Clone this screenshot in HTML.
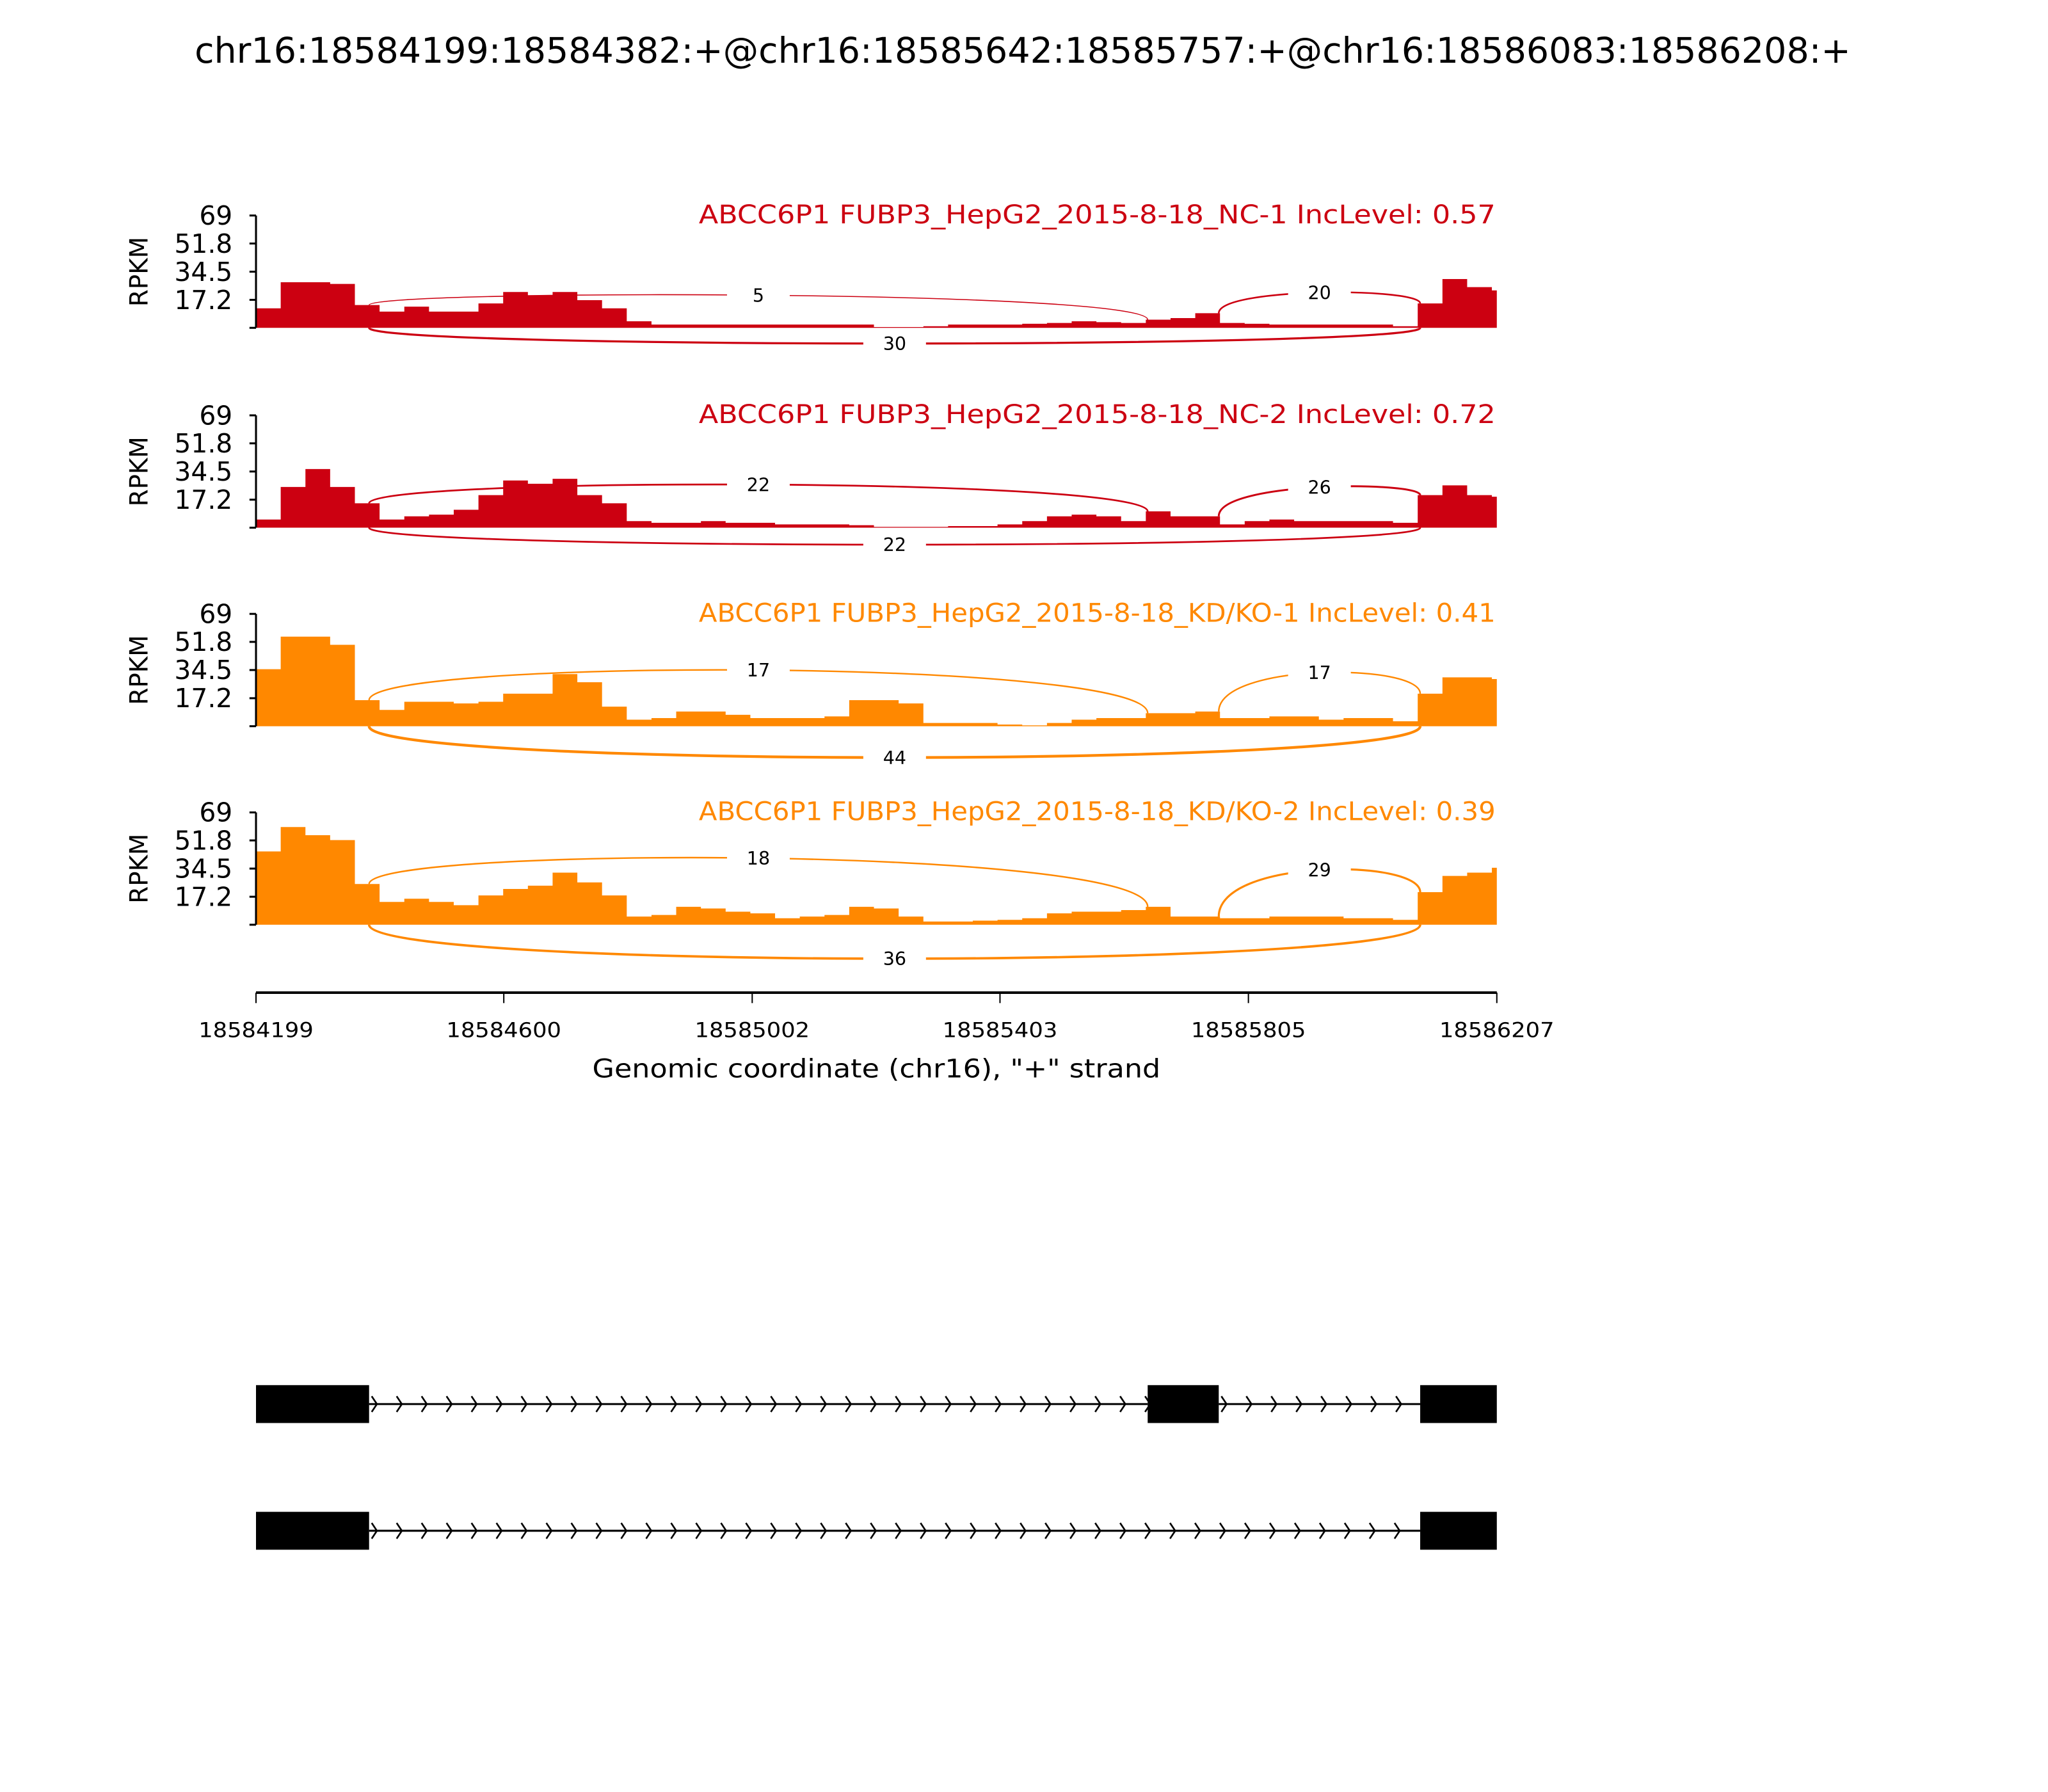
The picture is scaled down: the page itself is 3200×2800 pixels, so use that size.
<!DOCTYPE html>
<html><head><meta charset="utf-8"><style>
html,body{margin:0;padding:0;background:#fff;}
svg{display:block;}
text{font-family:"DejaVu Sans","Liberation Sans",sans-serif;}
</style></head><body>
<svg id="chart" xmlns="http://www.w3.org/2000/svg" width="3200" height="2800" viewBox="0 0 1568 1372">
<rect width="1568" height="1372" fill="#fff"/>
<text x="783" y="48" font-size="27" text-anchor="middle" textLength="1268" lengthAdjust="spacingAndGlyphs">chr16:18584199:18584382:+@chr16:18585642:18585757:+@chr16:18586083:18586208:+</text>
<g id="panels"></g>
<g id="xaxis"></g>
<g id="genes"></g>
</svg>
<script>
const NS='http://www.w3.org/2000/svg';
const xStart=18584199, xEnd=18586207, binSize=40;
const xTicks=[18584199,18584600,18585002,18585403,18585805,18586207];
const yTicks=[17.2,34.5,51.8,69];
const yMax=69;
const exonsA=[[18584199,18584382],[18585642,18585757],[18586083,18586208]];
const exonsB=[[18584199,18584382],[18586083,18586208]];
const sampleNames=["ABCC6P1 FUBP3_HepG2_2015-8-18_NC-1 IncLevel: 0.57","ABCC6P1 FUBP3_HepG2_2015-8-18_NC-2 IncLevel: 0.72","ABCC6P1 FUBP3_HepG2_2015-8-18_KD/KO-1 IncLevel: 0.41","ABCC6P1 FUBP3_HepG2_2015-8-18_KD/KO-2 IncLevel: 0.39"];
const sampleColors=["#cc0011","#cc0011","#ff8800","#ff8800"];
const cov1=[12,28,28,27,14,10,13,10,10,15,22,20,22,17,12,4,2,2,2,2,2,2,2,2,2,0.5,0.5,1,2,2,2,2.5,3,4,3.5,3,5,6,9,3,2.5,2,2,2,2,2,1,15,30,25,23];
const cov2=[5,25,36,25,15,5,7,8,11,20,29,27,30,20,15,4,3,3,4,3,3,2,2,2,1.5,0.5,0.5,0.5,1,1,2,4,7,8,7,4,10,7,7,2,4,5,4,4,4,4,3,20,26,20,19];
const cov3=[35,55,55,50,16,10,15,15,14,15,20,20,32,27,12,4,5,9,9,7,5,5,5,6,16,16,14,2,2,2,1,0.5,2,4,5,5,8,8,9,5,5,6,6,4,5,5,3,20,30,30,29];
const cov4=[45,60,55,52,25,14,16,14,12,18,22,24,32,26,18,5,6,11,10,8,7,4,5,6,11,10,5,2,2,2.5,3,4,7,8,8,9,11,5,5,4,4,5,5,5,4,4,3,20,30,32,35];
const coverages=[cov1,cov2,cov3,cov4];
const incCounts1=[5,22,17,18];
const incCounts2=[20,26,17,29];
const skipCounts=[30,22,44,36];
const junc1=[18584382,18585642], junc2=[18585757,18586083], juncSkip=[18584382,18586083];

const X0=196,X1=1146;
function xs(g){return X0+(g-xStart)/(xEnd-xStart)*(X1-X0);}
const panelTops=[165,318,470,622], PH=86;
const arcUp1=[25,33,43,51], arcUp2=[27,31,41,42], arcDown=[12,13,24,26];
function el(tag,attrs,parent){const e=document.createElementNS(NS,tag);for(const k in attrs)e.setAttribute(k,attrs[k]);parent.appendChild(e);return e;}
function covAt(cov,g){let i=Math.floor((g-xStart)/binSize);i=Math.max(0,Math.min(cov.length-1,i));return cov[i];}

const panels=document.getElementById('panels');
coverages.forEach((cov,p)=>{
  const top=panelTops[p], base=top+PH;
  const ys=v=>base-v/yMax*PH;
  const g=el('g',{},panels);
  
  
  let d='M'+X0+','+base;
  cov.forEach((v,i)=>{
    const a=xs(xStart+i*binSize), b=Math.min(X1,xs(xStart+(i+1)*binSize));
    d+=' L'+a.toFixed(2)+','+ys(v).toFixed(2)+' L'+b.toFixed(2)+','+ys(v).toFixed(2);
  });
  d+=' L'+X1+','+base+' Z';
  const area=el('path',{d:d,fill:sampleColors[p]},g);
  
  
  const ax=el('line',{x1:X0,x2:X0,y1:top,y2:base,stroke:'#000','stroke-width':1.5},g);
  
  
  [0].concat(yTicks).forEach(t=>{
    const tk=el('line',{x1:X0-5,x2:X0,y1:ys(t),y2:ys(t),stroke:'#000','stroke-width':1.5},g);
    
    
    if(t>0){
      const tl=el('text',{x:X0-18,y:ys(t)+7,'font-size':20,'text-anchor':'end'},g);
      
      
      tl.textContent=String(t);
    }
  });
  const yl=el('text',{x:0,y:0,'font-size':19,'text-anchor':'middle',transform:'translate(113,'+(top+PH/2)+') rotate(-90)'},g);
  
  
  yl.textContent='RPKM';
  const st=el('text',{x:1145,y:top+6,'font-size':19.5,'text-anchor':'end',fill:sampleColors[p],textLength:sampleNames[p].length>52?648:610,lengthAdjust:'spacingAndGlyphs'},g);
  
  
  st.textContent=sampleNames[p];
  function arc(j,count,up,h){
    const a=xs(j[0]), b=xs(j[1]);
    const ya=up?ys(covAt(cov,j[0]-1)):base, yb=up?ys(covAt(cov,j[1]+1)):base;
    const peak=up?base-h:base+h;
    const cy=(peak-0.125*(ya+yb))/0.75;
    const path=el('path',{d:'M'+a+','+ya+' C'+a+','+cy+' '+b+','+cy+' '+b+','+yb,fill:'none',stroke:sampleColors[p],'stroke-width':0.6+count/30},g);
    
    
    const mx=(a+b)/2;
    const r=el('rect',{x:mx-24,y:peak-8,width:48,height:16,fill:'#fff'},g);
    
    
    const t=el('text',{x:mx,y:peak+5,'font-size':14,'text-anchor':'middle'},g);
    
    
    t.textContent=String(count);
  }
  arc(junc1,incCounts1[p],true,arcUp1[p]);
  arc(junc2,incCounts2[p],true,arcUp2[p]);
  arc(juncSkip,skipCounts[p],false,arcDown[p]);
});

const xa=document.getElementById('xaxis');
const xl=el('line',{x1:X0,x2:X1,y1:760,y2:760,stroke:'#000','stroke-width':2},xa);


xTicks.forEach(t=>{
  const tk=el('line',{x1:xs(t),x2:xs(t),y1:760,y2:768,stroke:'#000','stroke-width':1},xa);
  
  
  const tl=el('text',{x:xs(t),y:794,'font-size':15.5,'text-anchor':'middle',textLength:88,lengthAdjust:'spacingAndGlyphs'},xa);
  
  
  tl.textContent=String(t);
});
const xt=el('text',{x:671,y:825,'font-size':19.5,'text-anchor':'middle',textLength:435,lengthAdjust:'spacingAndGlyphs'},xa);


xt.textContent='Genomic coordinate (chr16), "+" strand';

const gm=document.getElementById('genes');
[[exonsA,1075],[exonsB,1172]].forEach(([ex,cy],k)=>{
  const g=el('g',{},gm);
  
  
  for(let i=0;i<ex.length-1;i++){
    const a=xs(ex[i][1]), b=xs(ex[i+1][0]);
    const ln=el('line',{x1:a,x2:b,y1:cy,y2:cy,stroke:'#000','stroke-width':1.5},g);
    
    
    for(let x=a+1;x<b-2;x+=19.1){
      const c=el('path',{d:'M'+(x+1)+','+(cy-6)+' L'+(x+5)+','+cy+' L'+(x+1)+','+(cy+6),fill:'none',stroke:'#000','stroke-width':1.3},g);
      
      
    }
  }
  ex.forEach(e=>{
    const r=el('rect',{x:xs(e[0]),y:cy-14.5,width:Math.min(X1,xs(e[1]))-xs(e[0]),height:29,fill:'#000'},g);
    
    
  });
});
</script>
</body></html>
